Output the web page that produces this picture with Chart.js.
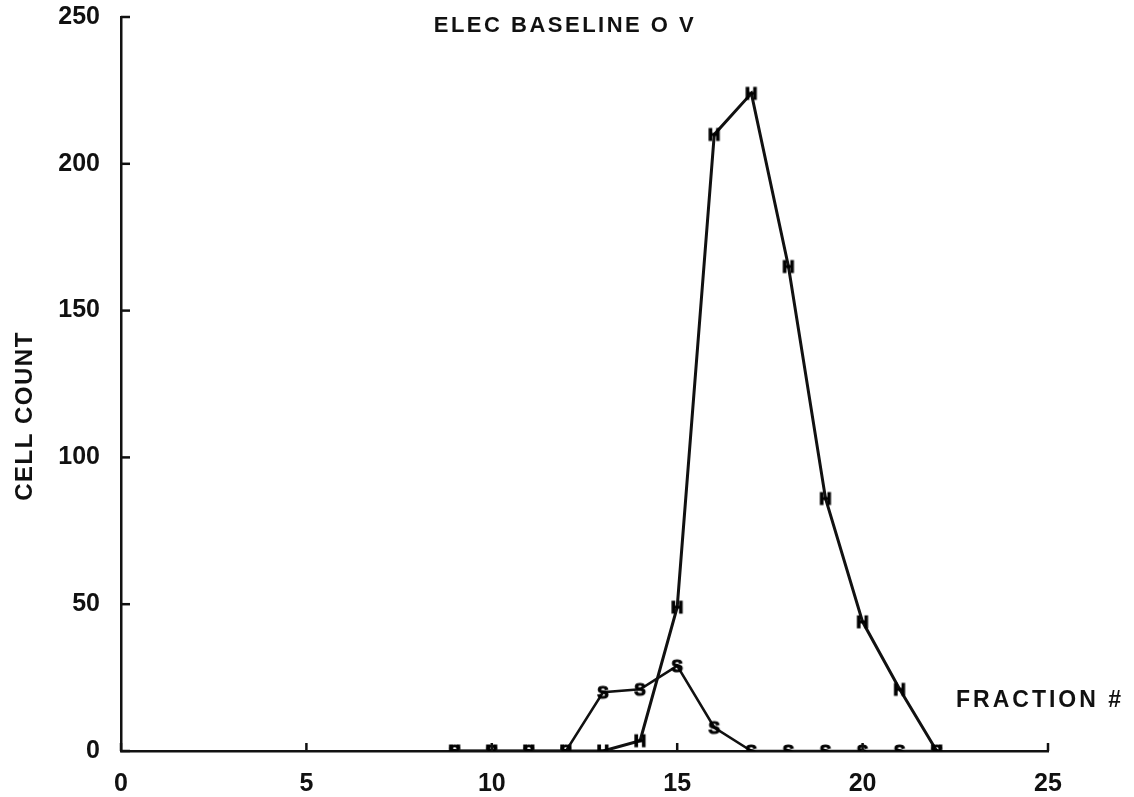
<!DOCTYPE html>
<html>
<head>
<meta charset="utf-8">
<script src="https://cdn.jsdelivr.net/npm/chart.js@4/dist/chart.umd.min.js"></script>
<style>
  body { margin: 0; background: #fff; }
  #wrap { width: 1134px; height: 797px; position: relative; }
</style>
</head>
<body>
<div id="wrap"><canvas id="chart"></canvas></div>
<script>
// fraction numbers and cell counts
const fractions = [9, 10, 11, 12, 13, 14, 15, 16, 17, 18, 19, 20, 21, 22];
const hCounts = [0, 0, 0, 0, 0, 3.5, 49, 210, 224, 165, 86, 44, 21, 0];
const sCounts = [0, 0, 0, 0, 20, 21, 29, 8, 0, 0, 0, 0, 0, 0];
const xTicks = [0, 5, 10, 15, 20, 25];
const yTicks = [0, 50, 100, 150, 200, 250];

const titleText = 'ELEC BASELINE O V';
const xTitle = 'FRACTION #';
const yTitle = 'CELL COUNT';

// little letter markers like the plotter used
function letterMarker(ch) {
  const c = document.createElement('canvas');
  c.width = 18; c.height = 20;
  const g = c.getContext('2d');
  g.fillStyle = '#000';
  g.strokeStyle = '#000';
  g.lineWidth = 1.2;
  g.font = 'bold 17px "Liberation Sans", Arial, sans-serif';
  g.textAlign = 'center';
  g.textBaseline = 'middle';
  g.fillText(ch, 9, 11);
  g.strokeText(ch, 9, 11);
  return c;
}

function toPoints(xs, ys) {
  return xs.map((x, i) => ({ x: x, y: ys[i] }));
}

// inward tick marks + free text labels
const decor = {
  id: 'decor',
  afterDraw(chart) {
    const ctx = chart.ctx;
    const xs = chart.scales.x, ys = chart.scales.y;
    const area = chart.chartArea;
    ctx.save();
    ctx.strokeStyle = '#111';
    ctx.lineWidth = 2.5;
    xTicks.forEach(v => {
      const px = xs.getPixelForValue(v);
      ctx.beginPath();
      ctx.moveTo(px, area.bottom);
      ctx.lineTo(px, area.bottom - 8);
      ctx.stroke();
    });
    yTicks.forEach(v => {
      const py = ys.getPixelForValue(v);
      ctx.beginPath();
      ctx.moveTo(area.left, py);
      ctx.lineTo(area.left + 9, py);
      ctx.stroke();
    });

    ctx.fillStyle = '#111';
    ctx.textBaseline = 'middle';
    ctx.font = 'bold 22px "Liberation Sans", Arial, sans-serif';
    ctx.letterSpacing = '2.5px';
    ctx.textAlign = 'center';
    ctx.fillText(titleText, 565, 26);

    ctx.textAlign = 'left';
    ctx.font = 'bold 23px "Liberation Sans", Arial, sans-serif';
    ctx.letterSpacing = '3px';
    ctx.fillText(xTitle, 956, 701);

    ctx.translate(25, 416);
    ctx.rotate(-Math.PI / 2);
    ctx.textAlign = 'center';
    ctx.font = 'bold 24px "Liberation Sans", Arial, sans-serif';
    ctx.letterSpacing = '1.5px';
    ctx.fillText(yTitle, 0, 0);
    ctx.restore();
  }
};

new Chart(document.getElementById('chart'), {
  type: 'line',
  data: {
    datasets: [
      {
        label: 'S',
        data: toPoints(fractions, sCounts),
        borderColor: '#111',
        borderWidth: 2.5,
        pointStyle: letterMarker('S'),
        pointRadius: 9,
        tension: 0
      },
      {
        label: 'H',
        data: toPoints(fractions, hCounts),
        borderColor: '#111',
        borderWidth: 3,
        pointStyle: letterMarker('H'),
        pointRadius: 9,
        tension: 0
      }
    ]
  },
  options: {
    responsive: true,
    maintainAspectRatio: false,
    animation: false,
    layout: { padding: { left: 0, top: 17, right: 86, bottom: 0 } },
    plugins: {
      legend: { display: false },
      title: { display: false },
      tooltip: { enabled: false }
    },
    scales: {
      x: {
        type: 'linear',
        min: 0,
        max: 25,
        afterBuildTicks(scale) { scale.ticks = xTicks.map(v => ({ value: v })); },
        afterFit(scale) {
          scale.height = 46;
          scale.paddingLeft = 0;
          scale.paddingRight = 0;
        },
        grid: { display: false, drawTicks: false },
        border: { display: true, color: '#111', width: 2.5 },
        ticks: {
          color: '#111',
          padding: 18,
          maxRotation: 0,
          font: { family: '"Liberation Sans", Arial, sans-serif', size: 25, weight: 'bold' }
        }
      },
      y: {
        min: 0,
        max: 250,
        afterBuildTicks(scale) { scale.ticks = yTicks.map(v => ({ value: v })); },
        afterFit(scale) {
          scale.width = 121;
          scale.paddingTop = 0;
          scale.paddingBottom = 0;
        },
        grid: { display: false, drawTicks: false },
        border: { display: true, color: '#111', width: 2.5 },
        ticks: {
          color: '#111',
          padding: 21,
          font: { family: '"Liberation Sans", Arial, sans-serif', size: 25, weight: 'bold' }
        }
      }
    }
  },
  plugins: [decor]
});
</script>
</body>
</html>
